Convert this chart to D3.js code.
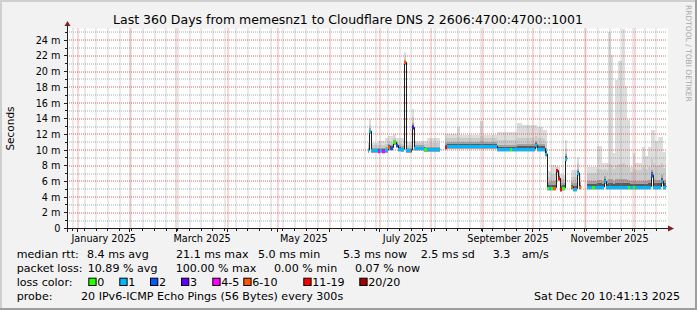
<!DOCTYPE html>
<html><head><meta charset="utf-8">
<script src="https://cdn.jsdelivr.net/npm/d3@7"></script>
<style>
html,body{margin:0;padding:0;background:#f2f2f2;}
svg{display:block;}
text{font-family:"DejaVu Sans",sans-serif;}
</style></head><body>
<svg id="chart" width="697" height="310"></svg>
<script>
// ---------------- DATA ----------------
const titleText = "Last 360 Days from memesnz1 to Cloudflare DNS 2 2606:4700:4700::1001";
const yAxisTitle = "Seconds";
const watermark = "RRDTOOL / TOBI OETIKER";
const startTime = "2024-12-25T10:41:13Z";
const endTime = "2025-12-20T10:41:13Z";
const yMaxMs = 25.5;
const yTickValues = [0, 2, 4, 6, 8, 10, 12, 14, 16, 18, 20, 22, 24];
const yTickLabels = ["0", "2 m", "4 m", "6 m", "8 m", "10 m", "12 m", "14 m", "16 m", "18 m", "20 m", "22 m", "24 m"];
const xLabelMonths = ["2025-01", "2025-03", "2025-05", "2025-07", "2025-09", "2025-11"];
const xLabelTexts = ["January 2025", "March 2025", "May 2025", "July 2025", "September 2025", "November 2025"];

// one entry per sample; a sample lasts until the next one (null median = no data)
const sampleTimes = [
 "2025-06-24T01","2025-06-24T16","2025-06-25T20","2025-06-30T01","2025-07-01T06","2025-07-02T11",
 "2025-07-04T06","2025-07-06T01","2025-07-07T06","2025-07-09T01","2025-07-10T20","2025-07-12T01",
 "2025-07-13T20","2025-07-15T16","2025-07-16T20","2025-07-19T20","2025-07-20T11","2025-07-21T16",
 "2025-07-27T16","2025-07-29T11","2025-08-06T06","2025-08-09T06","2025-08-10T11","2025-08-16T11",
 "2025-08-18T06","2025-08-30T06","2025-09-01T01","2025-09-09T11","2025-09-17T06","2025-09-18T11",
 "2025-09-21T11","2025-09-24T11","2025-10-02T06","2025-10-03T11","2025-10-07T01","2025-10-08T06",
 "2025-10-09T11","2025-10-10T16","2025-10-11T20","2025-10-13T01","2025-10-14T20","2025-10-16T01",
 "2025-10-17T06","2025-10-18T11","2025-10-20T06","2025-10-21T11","2025-10-23T20","2025-10-25T01",
 "2025-10-27T11","2025-10-28T16","2025-10-29T20","2025-11-02T11","2025-11-05T11","2025-11-07T06",
 "2025-11-08T11","2025-11-11T11","2025-11-12T16","2025-11-13T20","2025-11-15T01","2025-11-16T20",
 "2025-11-18T01","2025-11-19T06","2025-11-21T01","2025-11-23T11","2025-11-25T06","2025-11-26T11",
 "2025-11-27T01","2025-11-28T06","2025-11-30T01","2025-12-01T06","2025-12-05T11","2025-12-07T06",
 "2025-12-09T01","2025-12-10T20","2025-12-12T01","2025-12-13T06","2025-12-15T01","2025-12-16T20",
 "2025-12-18T01","2025-12-19T20"
];
const medianMs = [
 10.0,12.4,10.0,9.9,10.0,9.9, 10.0,10.4,10.3,11.0,10.6,10.2, 10.1,21.2,10.0,10.0,12.9,10.3,
 10.1,10.1,null,10.4,10.5,10.5, 10.5,10.5,10.5,10.15,10.15,10.15, 10.15,10.15,10.6,10.2,10.2,9.5,
 5.2,5.2,5.2,5.2,7.4,6.4, 5.0,5.2,8.9,null,5.3,5.1, 7.1,5.3,null,5.3,5.3,5.3,
 5.3,5.3,6.0,5.35,5.35,5.35, 5.35,5.35,5.35,5.35,5.35,5.35, 5.35,5.35,5.35,5.35,5.35,5.35,
 5.35,6.8,5.35,5.35,5.35,6.0, 5.35,null
];
const lostPings = [
 1,1,1,5,1,5, 1,8,2,0,2,1, 1,8,1,15,3,1,
 0,1,null,15,1,1, 1,1,1,1,0,1, 1,1,1,1,1,1,
 0,1,0,8,15,15, 15,0,1,null,8,1, 1,8,null,1,0,1,
 1,1,1,1,1,1, 1,1,1,1,1,1, 0,1,0,1,1,1,
 1,2,1,1,1,1, 1,null
];
const smokeTopMs = [
 11.0,14.0,10.9,11.2,11.2,11.2, 11.5,11.8,11.8,12.1,11.6,11.6, 11.5,22.5,11.0,11.0,15.3,11.2,
 11.2,11.6,null,12.0,12.0,12.9, 11.9,13.7,11.9,12.3,12.3,12.3, 13.4,13.2,13.2,12.9,12.5,12.5,
 7.3,7.3,8.1,8.1,8.0,7.9, 7.0,6.8,11.3,null,7.5,7.5, 9.1,7.0,null,7.9,7.9,7.9,
 10.5,8.3,8.3,8.3,25.0,22.1, 9.6,18.9,21.3,25.5,18.2,13.8, 13.8,7.9,9.6,8.3,10.4,9.3,
 10.4,12.5,12.5,11.2,11.7,11.7, 9.8,null
];
const smokeP90Ms = [
 10.6,13.2,10.6,10.6,10.6,10.6, 10.8,11.1,11.0,11.6,11.1,10.9, 10.8,21.9,10.6,10.6,14.2,10.9,
 10.8,10.9,null,11.5,11.5,11.7, 11.5,11.8,11.5,11.3,11.3,11.3, 11.6,11.6,11.8,11.5,11.4,11.0,
 6.6,6.6,7.0,7.0,7.8,7.3, 6.4,6.3,10.2,null,6.6,6.6, 8.3,6.5,null,7.1,7.1,7.1,
 7.6,7.4,7.6,7.4,8.2,8.1, 7.6,8.1,8.2,8.3,8.1,7.9, 7.9,7.2,7.6,7.4,7.8,7.6,
 7.9,8.8,8.3,8.0,8.1,8.4, 7.7,null
];
const smokeMidMs = [
 10.3,12.8,10.3,10.3,10.3,10.3, 10.4,10.8,10.7,11.3,10.9,10.6, 10.5,21.5,10.3,10.3,13.4,10.6,
 10.4,10.4,null,10.9,11.0,11.0, 11.0,11.1,11.0,10.7,10.7,10.7, 10.8,10.8,11.2,10.8,10.8,10.3,
 5.9,5.9,6.0,6.0,7.6,6.9, 5.8,5.8,9.5,null,5.9,5.8, 7.6,5.9,null,6.0,6.0,6.0,
 6.2,6.1,6.7,6.1,6.3,6.3, 6.1,6.3,6.3,6.3,6.3,6.2, 6.2,6.0,6.0,6.0,6.1,6.1,
 6.2,7.5,6.3,6.2,6.2,6.8, 6.2,null
];

// loss colour legend (upper bound of lost pings per bin)
const lossBinLabels = ["0", "1", "2", "3", "4-5", "6-10", "11-19", "20/20"];
const lossBinUpper = [0, 1, 2, 3, 5, 10, 19, 20];
const lossColors = ["#26ff00", "#00b8ff", "#0059ff", "#5e00ff", "#ff00ff", "#ff5500", "#ff0000", "#a10000"];

// legend text rows
const legendRow1 = ["median rtt:", "8.4 ms avg", "21.1 ms max", "5.0 ms min", "5.3 ms now", "2.5 ms sd", "3.3", "am/s"];
const legendRow2 = ["packet loss:", "10.89 % avg", "100.00 % max", "0.00 % min", "0.07 % now"];
const legendRow3Label = "loss color:";
const legendRow4 = ["probe:", "20 IPv6-ICMP Echo Pings (56 Bytes) every 300s"];
const timestampText = "Sat Dec 20 10:41:13 2025";

// ---------------- LAYOUT / STYLE ----------------
const W = 697, H = 310;
const plot = {left: 67, right: 667, top: 28.5, bottom: 228.5};
const C = {
  back: "#f2f2f2", canvas: "#ffffff", shadeA: "#cfcfcf", shadeB: "#9e9e9e",
  grid: "rgba(143,143,143,0.75)", mgrid: "rgba(222,79,79,0.9)",
  axis: "#1f1f1f", arrow: "#801f1f", font: "#000000"
};

const svg = d3.select("#chart");
const parseT = d3.utcParse("%Y-%m-%dT%H");
const t0 = new Date(startTime), t1 = new Date(endTime);
const x = d3.scaleUtc().domain([t0, t1]).range([plot.left, plot.right]);
const y = d3.scaleLinear().domain([0, yMaxMs]).range([plot.bottom, plot.top]);
const xs = t => Math.round(x(t));
const px = v => Math.floor(v) + 0.5;

// background + 3D frame
svg.append("rect").attr("width", W).attr("height", H).attr("fill", C.back);
svg.append("path").attr("d", `M0,${H} V0 H${W}`).attr("stroke", C.shadeA).attr("stroke-width", 4).attr("fill", "none");
svg.append("path").attr("d", `M0,${H} H${W} V0`).attr("stroke", C.shadeB).attr("stroke-width", 4).attr("fill", "none");

// canvas
svg.append("rect").attr("x", plot.left).attr("y", plot.top).attr("width", plot.right - plot.left + 1)
  .attr("height", plot.bottom - plot.top).attr("fill", C.canvas);

// samples
const samples = sampleTimes.map((s, i) => ({
  t: parseT(s), tEnd: i + 1 < sampleTimes.length ? parseT(sampleTimes[i + 1]) : null,
  med: medianMs[i], loss: lostPings[i], top: smokeTopMs[i], p90: smokeP90Ms[i], mid: smokeMidMs[i]
})).filter(d => d.med != null && d.tEnd);

const gData = svg.append("g").attr("shape-rendering", "crispEdges");
const colW = d => Math.max(1, xs(d.tEnd) - xs(d.t));
const layer = (cls, top, bottomOff, fill) => gData.selectAll("rect." + cls).data(samples).join("rect").attr("class", cls)
  .attr("x", d => xs(d.t)).attr("width", colW)
  .attr("y", d => y(top(d))).attr("height", d => Math.max(0, y(d.med) + bottomOff - y(top(d)))).attr("fill", fill);
layer("s1", d => d.top, 3, "#dddddd");
layer("s2", d => d.p90, 3, "#cbcbcb");
layer("s3", d => d.mid, 2.5, "#a3a3a3");
layer("s4", d => (d.med + d.mid) / 2, 2, "#5a5a5a");

// grid (dotted), drawn on integer coordinates like rrdtool
const gGrid = svg.append("g").attr("stroke-dasharray", "1,1").attr("stroke-width", 1);
const minorY = d3.range(1, yMaxMs, 2);
const gy = v => Math.round(y(v));
const gx = t => Math.round(x(t));
gGrid.selectAll("line.gy").data(minorY).join("line")
  .attr("x1", plot.left).attr("x2", plot.right).attr("y1", gy).attr("y2", gy).attr("stroke", C.grid);
const weeks = d3.utcSunday.range(t0, t1).filter(d => d.getUTCDate() !== 1);
gGrid.selectAll("line.gx").data(weeks).join("line")
  .attr("y1", plot.top).attr("y2", plot.bottom).attr("x1", gx).attr("x2", gx).attr("stroke", C.grid);
gGrid.selectAll("line.my").data(yTickValues.filter(v => v > 0)).join("line")
  .attr("x1", plot.left).attr("x2", plot.right).attr("y1", gy).attr("y2", gy).attr("stroke", C.mgrid);
const months = d3.utcMonth.range(d3.utcMonth.ceil(t0), t1);
gGrid.selectAll("line.mx").data(months).join("line")
  .attr("y1", plot.top).attr("y2", plot.bottom).attr("x1", gx).attr("x2", gx).attr("stroke", C.mgrid);

// median black line (step) per continuous segment
const segs = [];
let cur = [];
samples.forEach(d => {
  if (cur.length && cur[cur.length - 1].tEnd.getTime() !== d.t.getTime()) { segs.push(cur); cur = []; }
  cur.push(d);
});
if (cur.length) segs.push(cur);
const line = d3.line().x(p => xs(p[0]) + 0.5).y(p => y(p[1])).curve(d3.curveStepAfter);
svg.append("g").selectAll("path").data(segs).join("path")
  .attr("d", seg => line(seg.map(d => [d.t, d.med]).concat([[seg[seg.length - 1].tEnd, seg[seg.length - 1].med]])))
  .attr("fill", "none").attr("stroke", "#202020").attr("stroke-width", 1);
// loss-coloured median bands
const lossColor = n => lossColors[lossBinUpper.findIndex(u => n <= u)];
svg.append("g").attr("shape-rendering", "crispEdges").selectAll("rect").data(samples).join("rect")
  .attr("x", d => xs(d.t)).attr("width", colW)
  .attr("y", d => Math.round(y(d.med)) - 1).attr("height", 3).attr("fill", d => lossColor(d.loss));

// axes
const gAx = svg.append("g").attr("stroke", C.axis).attr("stroke-width", 1).attr("shape-rendering", "crispEdges");
gAx.append("line").attr("x1", plot.left + 0.5).attr("x2", plot.left + 0.5).attr("y1", plot.bottom + 3).attr("y2", plot.top - 3);
gAx.append("line").attr("x1", plot.left - 3).attr("x2", plot.right + 2).attr("y1", plot.bottom).attr("y2", plot.bottom);
gAx.selectAll("line.ty").data(yTickValues).join("line")
  .attr("x1", plot.left - 3).attr("x2", plot.left).attr("y1", d => px(y(d))).attr("y2", d => px(y(d)));
gAx.selectAll("line.tym").data(minorY).join("line")
  .attr("x1", plot.left - 2).attr("x2", plot.left).attr("y1", d => px(y(d))).attr("y2", d => px(y(d)));
gAx.selectAll("line.tx").data(months).join("line")
  .attr("x1", d => px(x(d))).attr("x2", d => px(x(d))).attr("y1", plot.bottom).attr("y2", plot.bottom + 3);
gAx.selectAll("line.txm").data(weeks).join("line")
  .attr("x1", d => px(x(d))).attr("x2", d => px(x(d))).attr("y1", plot.bottom).attr("y2", plot.bottom + 2);
// arrows
svg.append("path").attr("d", `M${plot.left - 2.5},${plot.top - 2.5} L${plot.left + 3.5},${plot.top - 2.5} L${plot.left + 0.5},${plot.top - 7.5} Z`).attr("fill", C.arrow);
svg.append("path").attr("d", `M${plot.right + 1},${plot.bottom - 3} L${plot.right + 1},${plot.bottom + 3} L${plot.right + 7},${plot.bottom} Z`).attr("fill", C.arrow);

// y labels
svg.append("g").selectAll("text").data(yTickValues).join("text")
  .attr("x", 60.5).attr("y", d => y(d) + 3.5).attr("text-anchor", "end")
  .attr("font-size", 9.7).attr("fill", C.font).text((d, i) => yTickLabels[i]);
// x labels centered on month middle
const parseM = d3.utcParse("%Y-%m");
svg.append("g").selectAll("text").data(xLabelMonths).join("text")
  .attr("x", m => { const a = parseM(m), b = d3.utcMonth.offset(a, 1); return (x(a) + x(b)) / 2; })
  .attr("y", 241.5).attr("text-anchor", "middle").attr("font-size", 9.7).attr("fill", C.font)
  .text((m, i) => xLabelTexts[i]);

// title, y title, watermark
svg.append("text").attr("x", 348).attr("y", 23.5).attr("text-anchor", "middle").attr("font-size", 12.5)
  .attr("fill", C.font).text(titleText);
svg.append("text").attr("transform", "translate(14,128.5) rotate(-90)").attr("text-anchor", "middle")
  .attr("font-size", 10.5).attr("fill", C.font).text(yAxisTitle);
svg.append("text").attr("transform", "translate(685.5,5) rotate(90)").attr("font-size", 7.5)
  .attr("fill", "#a8a8a8").text(watermark);

// legend
const LF = 11.1;
const gL = svg.append("g").attr("font-size", LF).attr("fill", C.font);
const row1X = [16.7, 87, 176, 258, 343, 420.7, 492.7, 521.7];
gL.selectAll("text.r1").data(legendRow1).join("text").attr("class", "r1")
  .attr("x", (d, i) => row1X[i]).attr("y", 258.3).text(d => d);
const row2X = [16.7, 87.7, 175.7, 274, 355];
gL.selectAll("text.r2").data(legendRow2).join("text").attr("class", "r2")
  .attr("x", (d, i) => row2X[i]).attr("y", 272.1).text(d => d);
gL.append("text").attr("x", 16.7).attr("y", 285.9).text(legendRow3Label);
const swX = [88.3, 119.3, 150, 181, 212.3, 243.3, 303.3, 359.3];
gL.selectAll("rect.sw").data(lossColors).join("rect").attr("class", "sw")
  .attr("x", (d, i) => swX[i] + 0.5).attr("y", 278.2).attr("width", 7.3).attr("height", 7.3)
  .attr("fill", d => d).attr("stroke", "#000").attr("stroke-width", 1);
gL.selectAll("text.sl").data(lossBinLabels).join("text").attr("class", "sl")
  .attr("x", (d, i) => swX[i] + 9).attr("y", 285.9).text(d => d);
const row4X = [16.7, 81];
gL.selectAll("text.r4").data(legendRow4).join("text").attr("class", "r4")
  .attr("x", (d, i) => row4X[i]).attr("y", 299.5).text(d => d);
gL.append("text").attr("x", 680).attr("y", 299.5).attr("text-anchor", "end").text(timestampText);
</script>
</body></html>
